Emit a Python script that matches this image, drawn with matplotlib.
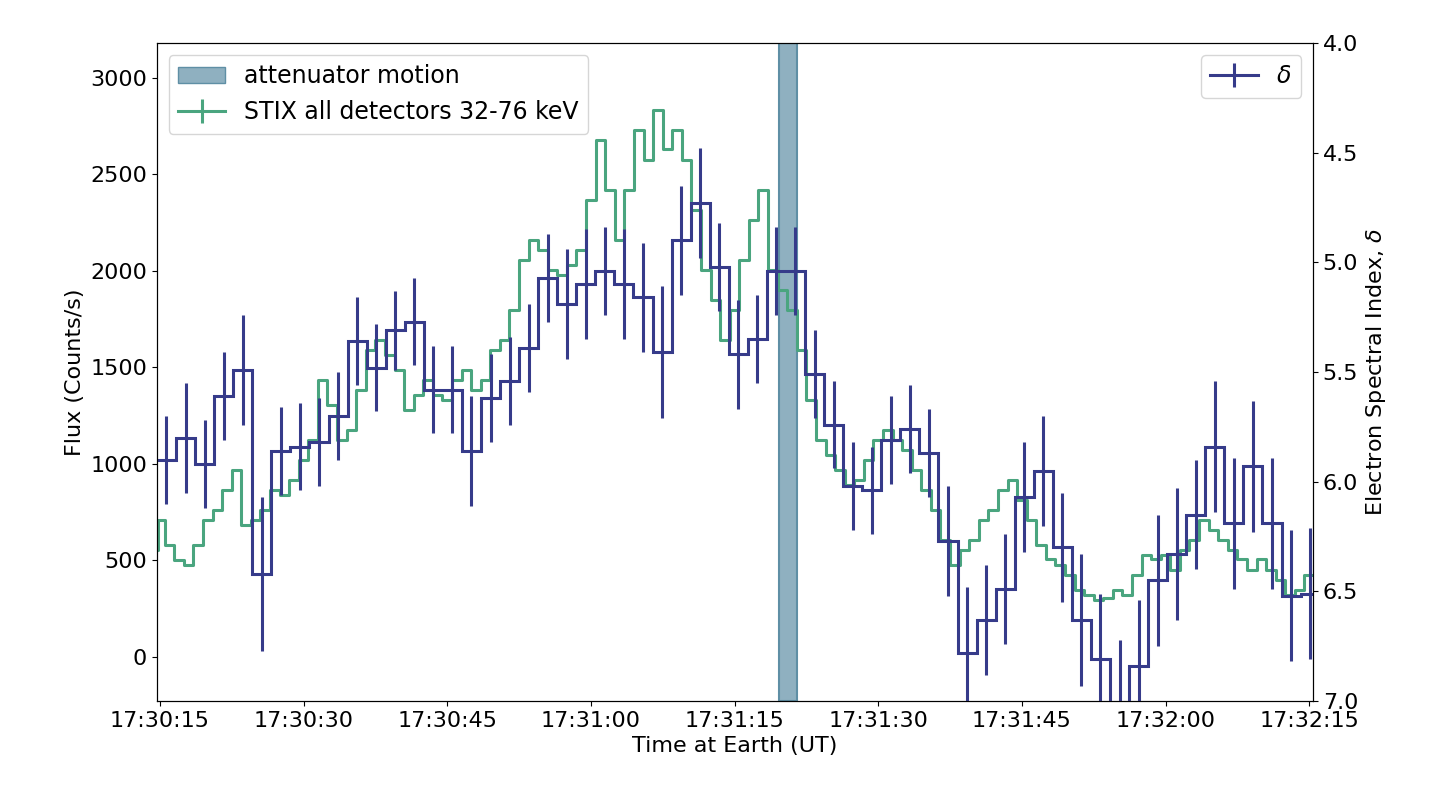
import matplotlib
matplotlib.use("Agg")
import matplotlib.pyplot as plt
import numpy as np
from matplotlib.patches import Patch

# seconds after 17:30:00
flux_t = [14.7] + list(range(15, 137))
flux = [555, 710, 580, 500, 475, 580, 710, 760, 865, 970, 685, 710, 760, 865, 840, 915, 1020, 1125,
        1435, 1305, 1125, 1175, 1385, 1590, 1640, 1565, 1485, 1280, 1355, 1435, 1355, 1330, 1435, 1485,
        1385, 1435, 1590, 1640, 1800, 2055, 2160, 2110, 2005, 1980, 2030, 2110, 2370, 2680, 2420, 2160,
        2420, 2730, 2575, 2835, 2630, 2730, 2575, 2315, 2005, 1850, 1640, 1800, 2055, 2265, 2420, 2005,
        1900, 1800, 1590, 1330, 1125, 1045, 970, 890, 915, 1020, 1125, 1175, 1125, 1070, 970, 865, 760,
        605, 475, 555, 605, 710, 760, 865, 915, 815, 710, 580, 505, 475, 425, 345, 320, 295, 305, 345,
        320, 425, 530, 505, 530, 450, 555, 605, 710, 660, 605, 555, 505, 450, 505, 450, 400, 320, 345,
        425, 475]

delta_edges_start = 14.7
delta_bin = 1.99
delta = [5.90, 5.80, 5.92, 5.61, 5.49, 6.42, 5.86, 5.84, 5.82, 5.70, 5.36, 5.48, 5.31, 5.27, 5.58,
         5.58, 5.86, 5.62, 5.54, 5.39, 5.07, 5.19, 5.10, 5.04, 5.10, 5.16, 5.41, 4.90, 4.73, 5.02,
         5.42, 5.35, 5.04, 5.04, 5.51, 5.74, 6.02, 6.04, 5.81, 5.76, 5.87, 6.27, 6.78, 6.63, 6.49,
         6.07, 5.95, 6.30, 6.63, 6.81, 7.02, 6.84, 6.45, 6.33, 6.15, 5.84, 6.19, 5.93, 6.19, 6.52, 6.51]
delta_err = [0.2, 0.25, 0.2, 0.2, 0.25, 0.35, 0.2, 0.2, 0.2, 0.2, 0.2, 0.2, 0.18, 0.2, 0.2,
             0.2, 0.25, 0.2, 0.2, 0.2, 0.2, 0.25, 0.25, 0.2, 0.25, 0.25, 0.3, 0.25, 0.25, 0.2,
             0.25, 0.2, 0.2, 0.2, 0.2, 0.2, 0.2, 0.2, 0.2, 0.2, 0.2, 0.25, 0.3, 0.25, 0.25,
             0.25, 0.25, 0.25, 0.3, 0.3, 0.3, 0.3, 0.3, 0.3, 0.25, 0.3, 0.3, 0.3, 0.3, 0.3, 0.3]
atten = (79.6, 81.5)
xticks = [15, 30, 45, 60, 75, 90, 105, 120, 135]
xticklabels = ["17:30:15", "17:30:30", "17:30:45", "17:31:00", "17:31:15", "17:31:30",
               "17:31:45", "17:32:00", "17:32:15"]

green = "#4aa57f"
navy = "#363b8a"

fig = plt.figure(figsize=(14.48, 8.1), dpi=100)
ax = fig.add_axes([0.1084, 0.1346, 0.7984, 0.8123])
ax.axvspan(*atten, color="#8fb0c0", ec="#5f8fa5", lw=1.5, zorder=1)
ax.step(flux_t, flux, where="mid", color=green, lw=2.2, zorder=2)
ax.set_xlim(14.7, 135.4)
ax.set_ylim(-228, 3181)
ax.set_xticks(xticks)
ax.set_xticklabels(xticklabels)
ax.set_yticks([0, 500, 1000, 1500, 2000, 2500, 3000])
ax.set_xlabel("Time at Earth (UT)", fontsize=16)
ax.set_ylabel("Flux (Counts/s)", fontsize=16)
ax.tick_params(labelsize=16)
h1 = Patch(fc="#8fb0c0", ec="#5f8fa5", label="attenuator motion")
h2 = ax.errorbar([np.nan], [np.nan], yerr=[1], color=green, lw=2.2, label="STIX all detectors 32-76 keV")
ax.legend(handles=[h1, h2], loc="upper left", fontsize=17)

ax2 = ax.twinx()
n = len(delta)
edges = delta_edges_start + delta_bin * np.arange(n + 1)
centers = (edges[:-1] + edges[1:]) / 2
ax2.stairs(delta, edges, color=navy, lw=2.2, baseline=None)
ax2.errorbar(centers, delta, yerr=delta_err, fmt="none", ecolor=navy, elinewidth=2.2)
ax2.set_ylim(7.0, 4.0)
ax2.set_yticks([4.0, 4.5, 5.0, 5.5, 6.0, 6.5, 7.0])
ax2.set_ylabel("Electron Spectral Index, $\\delta$", fontsize=16)
ax2.tick_params(labelsize=16)
h3 = ax2.errorbar([np.nan], [np.nan], yerr=[1], color=navy, lw=2.2, label="$\\delta$")
ax2.legend(handles=[h3], loc="upper right", fontsize=17)
ax2.set_xlim(14.7, 135.4)
fig.savefig("out.png", dpi=100)
